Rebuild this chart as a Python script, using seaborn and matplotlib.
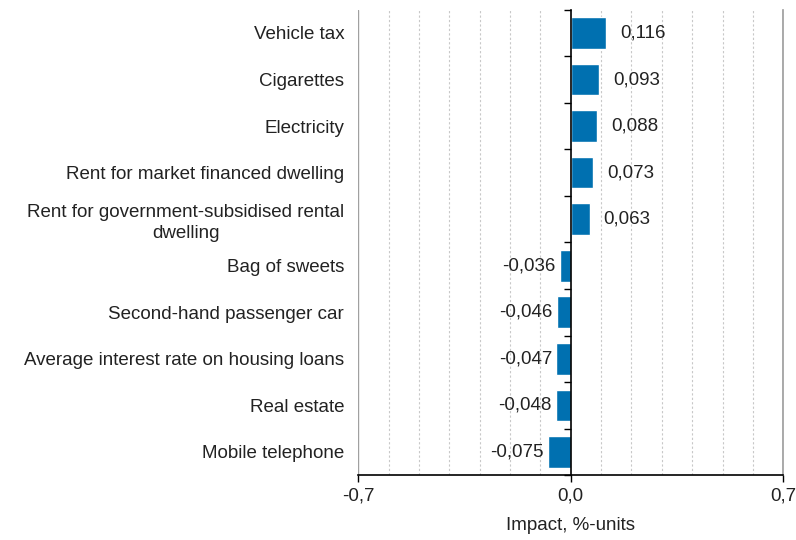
import matplotlib.pyplot as plt
import numpy as np
import pandas as pd
import seaborn as sns

categories = [
    "Vehicle tax",
    "Cigarettes",
    "Electricity",
    "Rent for market financed dwelling",
    "Rent for government-subsidised rental\ndwelling",
    "Bag of sweets",
    "Second-hand passenger car",
    "Average interest rate on housing loans",
    "Real estate",
    "Mobile telephone",
]
impact = [0.116, 0.093, 0.088, 0.073, 0.063, -0.036, -0.046, -0.047, -0.048, -0.075]
x_ticks = [-0.7, 0.0, 0.7]
x_tick_labels = ["-0,7", "0,0", "0,7"]

FS = 13.5
TXT = "#222222"

sns.set_theme(style="white")
plt.rcParams["font.family"] = ["Liberation Sans", "DejaVu Sans"]

df = pd.DataFrame({"category": categories, "impact": impact})

fig, ax = plt.subplots(figsize=(7.96, 5.40), dpi=100)
fig.subplots_adjust(left=0.45, right=0.984, top=0.982, bottom=0.12)

sns.barplot(data=df, y="category", x="impact", orient="h", color="#0070b0",
            saturation=1, width=0.68, ax=ax)

ax.set_xlim(-0.7, 0.7)
ax.set_ylim(len(categories) - 0.5, -0.5)

# gridlines: dashed every 0.1, solid at the outer edges
for g in np.round(np.arange(-0.7, 0.71, 0.1), 2):
    if g == 0:
        continue
    solid = abs(g) == 0.7
    ax.axvline(g, color="#a0a0a0" if solid else "#c8c8c8", lw=1.0 if solid else 0.8,
               ls="-" if solid else (0, (2, 2)), zorder=0)

ax.set_xticks(x_ticks)
ax.set_xticklabels(x_tick_labels, fontsize=FS, color=TXT)
ax.tick_params(axis="x", direction="out", length=5, width=1, color="black", bottom=True, pad=4)
ax.set_xlabel("Impact, %-units", fontsize=FS, color=TXT, labelpad=9)
ax.set_ylabel("")

# left spine sits on zero; labels pushed out to the left of the plot area
ax.spines["left"].set_position(("data", 0))
ax.spines["left"].set_color("black")
ax.spines["left"].set_linewidth(1.2)
ax.spines["top"].set_visible(False)
ax.spines["right"].set_color("#a0a0a0")
ax.spines["bottom"].set_color("black")
ax.spines["bottom"].set_linewidth(1.2)

fig.canvas.draw()
zero_px = ax.transData.transform((0, 0))[0] - ax.transAxes.transform((0, 0))[0]
pad_pt = (zero_px + 14) * 72 / fig.dpi

ax.set_yticks(np.arange(-0.5, len(categories), 1.0), minor=True)
ax.tick_params(axis="y", which="major", length=0, labelsize=FS, labelcolor=TXT, pad=pad_pt)
ax.tick_params(axis="y", which="minor", left=True, direction="out", length=5, width=1, color="black")
for lbl in ax.get_yticklabels():
    lbl.set_multialignment("center")
    lbl.set_linespacing(1.3)

for i, v in enumerate(impact):
    txt = f"{v:.3f}".replace(".", ",")
    if v >= 0:
        ax.annotate(txt, (v, i), xytext=(10, 0), textcoords="offset points",
                    ha="left", va="center", fontsize=FS, color=TXT)
    else:
        ax.annotate(txt, (v, i), xytext=(-3, 0), textcoords="offset points",
                    ha="right", va="center", fontsize=FS, color=TXT)

fig.savefig("out.png", dpi=100)
